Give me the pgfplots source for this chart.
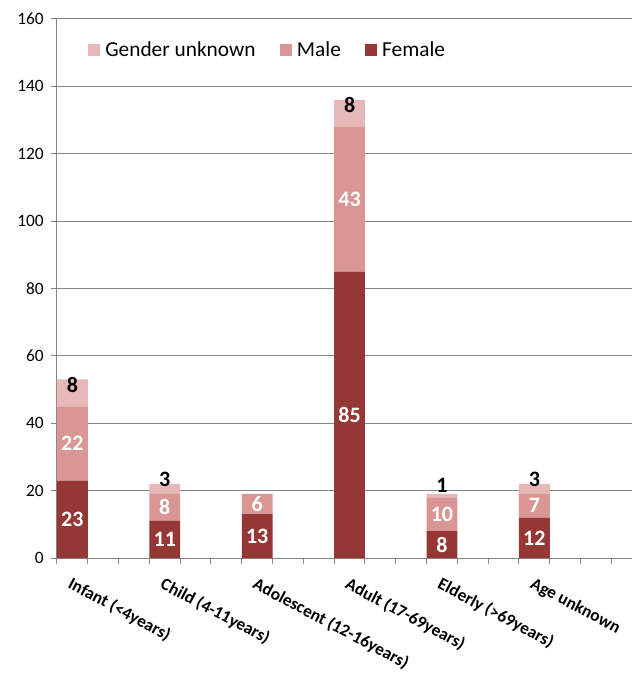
\documentclass[border=0pt]{standalone}
\usepackage{pgfplots}
\pgfplotsset{compat=1.18}
\usepackage{pgfplotstable}
\usepackage{fontspec}
\setmainfont{Carlito}

\definecolor{femalecol}{RGB}{149,55,53}
\definecolor{malecol}{RGB}{217,150,148}
\definecolor{unkcol}{RGB}{230,185,184}
\definecolor{axisgray}{RGB}{134,134,134}

% cases by age group (bars at x = 0.5, 3.5, ...) and gender
\pgfplotstableread{
x     F   M   U
0.5   23  22  8
3.5   11  8   3
6.5   13  6   0
9.5   85  43  8
12.5  8   10  1
15.5  12  7   3
}\agedata

\pgfplotsset{
  sqlegend/.style={legend image code/.code={\fill[##1] (0pt,-4.5pt) rectangle (9pt,4.5pt);}},
  plotgeom/.style={scale only axis, width=431.25pt, height=404.25pt,
    xmin=0, xmax=18.67, ymin=0, ymax=160,
    /pgf/number format/assume math mode=true},
}

\begin{document}
\begin{tikzpicture}
\begin{axis}[
  name=ax, plotgeom,
  ybar stacked, bar width=1,
  ytick={0,20,...,160},
  xtick={0,...,18},
  xticklabels={Infant (<4years),,,Child (4-11years),,,Adolescent (12-16years),,,Adult (17-69years),,,Elderly (>69years),,,Age unknown,,,},
  axis x line*=bottom, axis y line*=left,
  axis line style={axisgray, line width=0.75pt},
  ymajorgrids, grid style={axisgray, line width=0.75pt},
  tick align=outside, major tick length=4.5pt,
  tick style={axisgray, line width=0.75pt},
  yticklabel style={font=\fontsize{13}{15}\selectfont, xshift=-2pt},
  xticklabel style={font=\fontsize{13}{15}\selectfont\bfseries, inner sep=0pt,
    xshift=12pt, yshift=-9pt, rotate=-28, anchor=north west},
  legend columns=-1,
  reverse legend,
  legend style={draw=none, fill=none, at={(rel axis cs:0,0.9425)}, anchor=west,
    xshift=20pt, font=\fontsize{16}{19}\selectfont, column sep=0pt},
]
\addplot[fill=femalecol, draw=none, sqlegend] table[x=x, y=F] {\agedata};
\addplot[fill=malecol, draw=none, sqlegend] table[x=x, y=M] {\agedata};
\addplot[fill=unkcol, draw=none, sqlegend] table[x=x, y=U] {\agedata};
\legend{\hspace{2pt}Female, \hspace{2pt}Male\hspace{16pt}\mbox{}, \hspace{2pt}Gender unknown\hspace{16pt}\mbox{}}
\end{axis}
% counts written on the segments
\begin{axis}[
  at={(ax.south west)}, anchor=south west, plotgeom,
  hide axis, clip=false,
  nodes near coords style={font=\fontsize{16.5}{19}\selectfont\bfseries, anchor=center, inner sep=0pt},
]
\addplot[draw=none, mark=none, point meta=explicit, nodes near coords,
  nodes near coords style={text=white}]
  table[x=x, y expr=\thisrow{F}/2, meta=F] {\agedata};
\addplot[draw=none, mark=none, point meta=explicit, nodes near coords,
  nodes near coords style={text=white}]
  table[x=x, y expr=\thisrow{F}+\thisrow{M}/2, meta=M] {\agedata};
\addplot[draw=none, mark=none, point meta=explicit,
  nodes near coords={\pgfmathfloatifflags{\pgfplotspointmeta}{0}{}{\pgfmathprintnumber{\pgfplotspointmeta}}},
  nodes near coords style={text=black},
  visualization depends on={\thisrow{U} \as \segval},
  every node near coord/.append style={yshift={7.9pt-1.46pt*\segval}}]
  table[x=x, y expr=\thisrow{F}+\thisrow{M}+\thisrow{U}, meta=U] {\agedata};
\end{axis}
\pgfresetboundingbox
\path[use as bounding box] ([xshift=-42.75pt,yshift=-90.75pt]ax.south west)
  rectangle ([xshift=3pt,yshift=14.25pt]ax.north east);
\end{tikzpicture}
\end{document}
